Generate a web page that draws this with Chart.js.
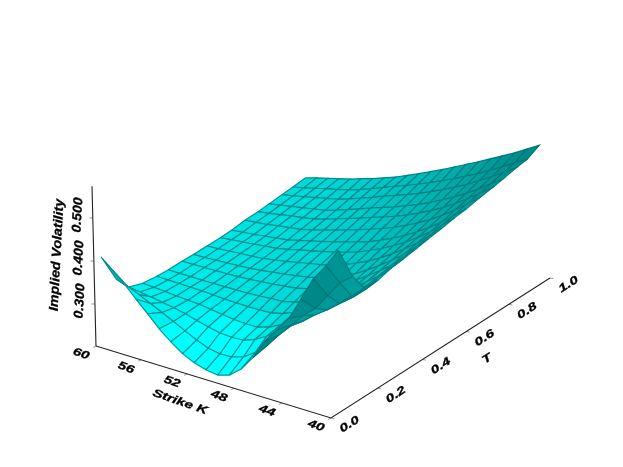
<!DOCTYPE html>
<html>
<head>
<meta charset="utf-8">
<title>Implied Volatility</title>
<script src="https://cdn.jsdelivr.net/npm/chart.js@4"></script>
<style>
  html, body { margin: 0; background: #fff; }
  canvas { display: block; }
</style>
</head>
<body>
<canvas id="chart" width="623" height="467"></canvas>
<script>
// Data
const strikes = [60, 59, 58, 57, 56, 55, 54, 53, 52, 51, 50, 49, 48, 47, 46, 45, 44, 43, 42, 41, 40];
const maturities = [0.03, 0.09, 0.14, 0.20, 0.26, 0.31, 0.37, 0.42, 0.48, 0.54, 0.59, 0.65, 0.71, 0.76, 0.82, 0.87, 0.93];
const ivByMaturity = [
  [.400,.377,.353,.325,.299,.272,.250,.231,.218,.210,.206,.214,.236,.270,.315,.348,.382,.433,.486,.522,.563],
  [.330,.320,.309,.296,.283,.270,.256,.243,.232,.227,.228,.236,.254,.278,.310,.340,.369,.393,.430,.466,.487],
  [.296,.292,.288,.283,.278,.272,.264,.257,.251,.249,.250,.260,.275,.295,.314,.333,.355,.374,.396,.421,.446],
  [.286,.284,.282,.279,.277,.275,.271,.267,.263,.261,.261,.269,.282,.298,.316,.335,.352,.371,.392,.417,.445],
  [.284,.283,.282,.281,.280,.278,.276,.275,.274,.274,.275,.281,.292,.305,.323,.341,.360,.379,.400,.427,.455],
  [.284,.283,.283,.282,.282,.282,.282,.282,.283,.285,.286,.292,.301,.314,.330,.347,.365,.384,.405,.431,.459],
  [.286,.286,.286,.286,.286,.287,.288,.290,.292,.295,.298,.304,.312,.323,.338,.354,.372,.391,.412,.438,.465],
  [.287,.287,.288,.289,.290,.291,.294,.297,.300,.304,.308,.314,.322,.333,.346,.362,.380,.399,.420,.445,.471],
  [.289,.290,.291,.293,.294,.296,.300,.304,.309,.314,.319,.326,.334,.345,.357,.372,.389,.408,.428,.452,.477],
  [.291,.293,.295,.297,.300,.302,.307,.313,.318,.324,.330,.337,.345,.356,.368,.382,.398,.416,.436,.460,.484],
  [.294,.296,.298,.301,.304,.307,.313,.319,.325,.332,.339,.346,.354,.365,.377,.391,.406,.424,.443,.466,.488],
  [.300,.302,.304,.308,.311,.314,.320,.327,.334,.342,.350,.358,.367,.377,.389,.402,.417,.434,.453,.475,.496],
  [.303,.306,.310,.314,.317,.321,.328,.336,.344,.352,.361,.369,.378,.388,.400,.413,.427,.444,.462,.482,.502],
  [.307,.311,.315,.319,.323,.327,.335,.343,.352,.361,.370,.378,.388,.398,.410,.423,.437,.453,.470,.489,.508],
  [.312,.316,.321,.326,.331,.336,.344,.353,.362,.372,.381,.390,.400,.411,.423,.436,.449,.465,.481,.499,.516],
  [.316,.321,.327,.333,.338,.344,.352,.361,.371,.381,.390,.400,.411,.422,.434,.447,.460,.475,.490,.506,.521],
  [.321,.328,.334,.340,.346,.354,.361,.370,.379,.390,.401,.413,.425,.438,.451,.464,.478,.492,.506,.522,.538]
];
const strikeTicks = [60, 56, 52, 48, 44, 40];
const maturityTicks = [0, 0.2, 0.4, 0.6, 0.8, 1];
const ivTicks = [0.3, 0.4, 0.5];
const ivBase = 0.2023;
const ivTop = 0.574;

// View: maps (strike, maturity, iv) into the picture's plane, with perspective
function project(k, t, z) {
  const u = (60 - k) / 20;
  const w = 1 - 0.05 * u + 0.071 * t;
  const bx = (96 + 218.45 * u + 247.1 * t) / w;
  const by = (346 + 51.1 * u - 113.26 * t) / w;
  const h = z - ivBase;
  return { x: bx + (bx - 311) * 0.05 * h, y: by - h * 430 / w };
}

// Shade of a cell: dims toward the far right corner, brightest in the dip.
// Cells seen from below get their own darker shade.
const light = [0.45, 0.1, 0.88];
function cellShade(i, j) {
  const row0 = ivByMaturity[i], row1 = ivByMaturity[i + 1];
  const a = project(strikes[j], maturities[i], row0[j]);
  const b = project(strikes[j + 1], maturities[i], row0[j + 1]);
  const c = project(strikes[j + 1], maturities[i + 1], row1[j + 1]);
  const d = project(strikes[j], maturities[i + 1], row1[j]);
  const area = (c.x - a.x) * (d.y - b.y) - (d.x - b.x) * (c.y - a.y);
  let g;
  if (area > 0) {
    const du = (strikes[j] - strikes[j + 1]) / 20;
    const dv = maturities[i + 1] - maturities[i];
    const zu = ((row0[j + 1] + row1[j + 1]) - (row0[j] + row1[j])) / du;
    const zv = ((row1[j] + row1[j + 1]) - (row0[j] + row0[j + 1])) / dv;
    const dot = (-zu * light[0] - zv * light[1] + light[2]) / Math.hypot(zu, zv, 1);
    g = 125 + 110 * Math.abs(dot);
  } else {
    const u = (60 - (strikes[j] + strikes[j + 1]) / 2) / 20;
    const v = (maturities[i] + maturities[i + 1]) / 2;
    const z = (row0[j] + row0[j + 1] + row1[j] + row1[j + 1]) / 4;
    g = 245 - 30 * v - 90 * Math.pow(u, 1.5) * (0.35 + 0.65 * v) + 65 * Math.max(0, 0.28 - z) / 0.07;
  }
  return Math.round(Math.max(120, Math.min(255, g)));
}

const datasets = [];

// nearest cells first: chart.js paints the first dataset on top
for (let i = 0; i < maturities.length - 1; i++) {
  for (let j = strikes.length - 2; j >= 0; j--) {
    const corners = [
      project(strikes[j], maturities[i], ivByMaturity[i][j]),
      project(strikes[j + 1], maturities[i], ivByMaturity[i][j + 1]),
      project(strikes[j + 1], maturities[i + 1], ivByMaturity[i + 1][j + 1]),
      project(strikes[j], maturities[i + 1], ivByMaturity[i + 1][j])
    ];
    corners.push(corners[0]);
    const g = cellShade(i, j);
    const lineG = Math.round(80 + 0.28 * g);
    datasets.push({
      data: corners,
      showLine: true,
      fill: 'shape',
      backgroundColor: `rgb(0,${g},${g})`,
      borderColor: `rgb(0,${lineG},${lineG})`,
      borderWidth: 1.15,
      pointRadius: 0,
      tension: 0
    });
  }
}

function axisLine(points, color, width) {
  datasets.push({ data: points, showLine: true, fill: false, borderColor: color, borderWidth: width, pointRadius: 0, tension: 0 });
}

// axes
axisLine([project(60, 0, ivBase), project(40, 0, ivBase), project(40, 1, ivBase)], '#222', 1.1);
axisLine([project(60, 0, ivBase), project(60, 0, ivTop)], '#222', 1.1);
strikeTicks.forEach(k => {
  const p = project(k, 0, ivBase);
  axisLine([p, { x: p.x - 3, y: p.y + 1.5 }], '#999', 1);
});
maturityTicks.forEach(t => {
  const p = project(40, t, ivBase);
  axisLine([p, { x: p.x + 3.5, y: p.y + 0.5 }], '#999', 1);
});
ivTicks.forEach(v => {
  const p = project(60, 0, v);
  axisLine([p, { x: p.x - 3.5, y: p.y }], '#999', 1);
});

const axisText = {
  id: 'axisText',
  afterDatasetsDraw(chart) {
    const { ctx, scales } = chart;
    // the labels in the reference are stretched along their baseline
    const put = (text, p, dx, dy, rot, size, stretch) => {
      ctx.save();
      ctx.translate(scales.x.getPixelForValue(p.x) + dx, scales.y.getPixelForValue(p.y) + dy);
      ctx.rotate(rot * Math.PI / 180);
      ctx.scale(stretch, 1);
      ctx.font = `italic bold ${size}px "Liberation Sans", Arial, sans-serif`;
      ctx.fillStyle = '#000';
      ctx.strokeStyle = '#000';
      ctx.lineWidth = 0.3;
      ctx.textAlign = 'center';
      ctx.textBaseline = 'middle';
      ctx.fillText(text, 0, 0);
      ctx.strokeText(text, 0, 0);
      ctx.restore();
    };
    strikeTicks.forEach(k => put(String(k), project(k, 0, ivBase), -15, 8, 20, 11, 1.35));
    maturityTicks.forEach(t => put(t.toFixed(1), project(40, t, ivBase), 18.5, 6.5, -33, 11, 1.4));
    ivTicks.forEach(v => put(v.toFixed(3), project(60, 0, v), -15, -3, -87, 13, 1.08));
    put('Implied Volatility', { x: 57, y: 255 }, 0, 0, -87, 13, 1.09);
    put('Strike K', { x: 180, y: 402 }, 0, 0, 19, 11, 1.38);
    put('T', { x: 487, y: 359 }, 0, 0, -33, 11, 1.4);
  }
};

new Chart(document.getElementById('chart'), {
  type: 'scatter',
  data: { datasets },
  plugins: [axisText],
  options: {
    responsive: false,
    animation: false,
    layout: { padding: 0 },
    plugins: { legend: { display: false }, tooltip: { enabled: false } },
    scales: {
      x: { type: 'linear', min: 0, max: 623, display: false },
      y: { type: 'linear', min: 0, max: 467, reverse: true, display: false }
    }
  }
});
</script>
</body>
</html>
